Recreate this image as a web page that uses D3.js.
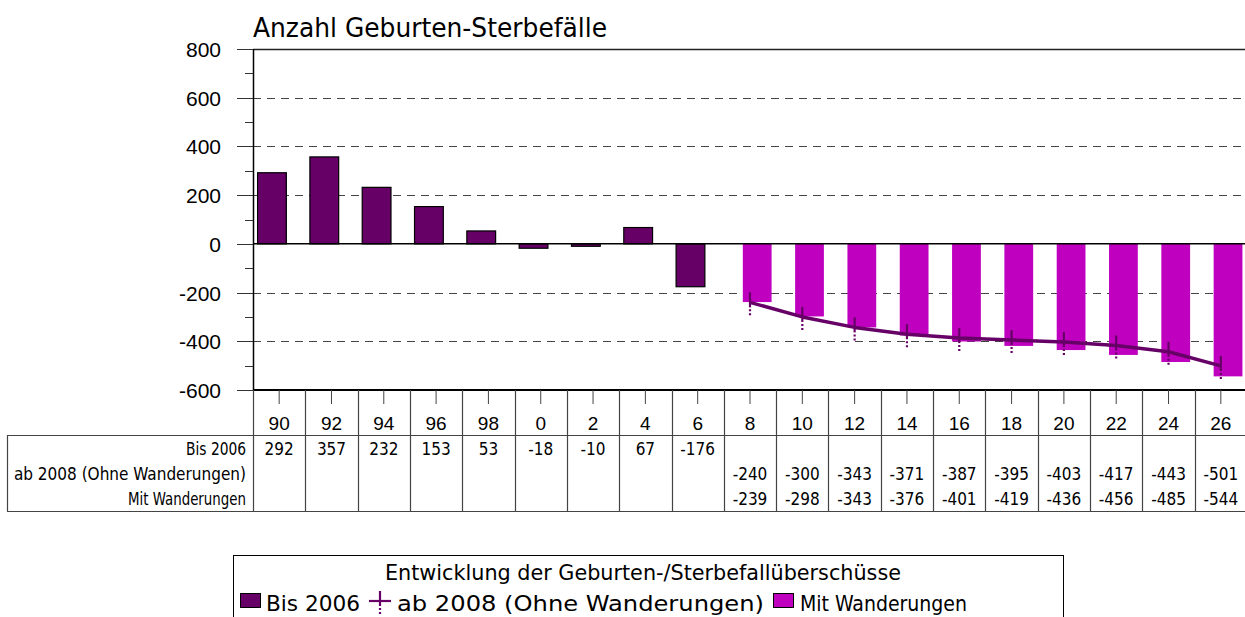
<!DOCTYPE html>
<html><head><meta charset="utf-8">
<script src="https://cdn.jsdelivr.net/npm/d3@7/dist/d3.min.js"></script>
<style>
html,body{margin:0;padding:0;background:#fff;}
svg{display:block;}
</style></head>
<body>
<svg id="chart" width="1245" height="617"></svg>
<script>
// ---- data ----
const categories = ["90","92","94","96","98","0","2","4","6","8","10","12","14","16","18","20","22","24","26"];
const bis2006 = [292,357,232,153,53,-18,-10,67,-176,null,null,null,null,null,null,null,null,null,null];
const ohneWanderungen = [null,null,null,null,null,null,null,null,null,-240,-300,-343,-371,-387,-395,-403,-417,-443,-501];
const mitWanderungen = [null,null,null,null,null,null,null,null,null,-239,-298,-343,-376,-401,-419,-436,-456,-485,-544];
const yTicks = [800,600,400,200,0,-200,-400,-600];
const yMinorTicks = [700,500,300,100,-100,-300,-500];
const rowLabels = ["Bis 2006","ab 2008 (Ohne Wanderungen)","Mit Wanderungen"];
const title = "Anzahl Geburten-Sterbefälle";
const legendTitle = "Entwicklung der Geburten-/Sterbefallüberschüsse";

(function(){
const C_DARK = "#660066", C_PINK = "#BF00BF";
const TAHOMA = "'DejaVu Sans Condensed','DejaVu Sans',sans-serif";
const ARIAL = "'Liberation Sans',Arial,sans-serif";

const svg = d3.select("#chart");
const pLeft = 253, pRight = 1247, pTop = 49, pBottom = 390;
const x = d3.scaleBand().domain(categories).range([pLeft, pRight]).padding(0);
const y = d3.scaleLinear().domain([-600, 800]).range([pBottom, pTop]);
const bw = x.bandwidth();
const barW = bw * 0.55;
const off = (bw - barW * 1.5) / 2;

function fit(sel, w) {
  sel.each(function(){
    const l = this.getComputedTextLength();
    if (Math.abs(l - w) / w > 0.02) {
      d3.select(this).attr("textLength", w).attr("lengthAdjust", "spacingAndGlyphs");
    }
  });
}

// title
svg.append("text").attr("x", 253).attr("y", 37).attr("font-family", TAHOMA).attr("font-size", 26)
  .attr("fill", "#000").text(title).call(fit, 354);

// gridlines
const g = svg.append("g");
g.selectAll("line.grid").data(yTicks.filter(d => d !== 0 && d !== 800 && d !== -600)).join("line")
  .attr("x1", pLeft).attr("x2", pRight).attr("y1", d => Math.round(y(d)) + 0.5).attr("y2", d => Math.round(y(d)) + 0.5)
  .attr("stroke", "#444").attr("stroke-width", 1).attr("stroke-dasharray", "8,6");

// top frame
g.append("line").attr("x1", pLeft).attr("x2", pRight).attr("y1", pTop + 0.5).attr("y2", pTop + 0.5)
  .attr("stroke", "#222").attr("stroke-width", 1.5);

// pink bars (Mit Wanderungen)
const mitData = categories.map((c, i) => ({c, v: mitWanderungen[i]})).filter(d => d.v !== null);
g.selectAll("rect.mit").data(mitData).join("rect")
  .attr("x", d => x(d.c) + off + barW * 0.5).attr("width", barW)
  .attr("y", d => y(Math.max(0, d.v))).attr("height", d => Math.abs(y(d.v) - y(0)))
  .attr("fill", C_PINK);

// dark bars (Bis 2006)
const bisData = categories.map((c, i) => ({c, v: bis2006[i]})).filter(d => d.v !== null);
g.selectAll("rect.bis").data(bisData).join("rect")
  .attr("x", d => x(d.c) + off).attr("width", barW)
  .attr("y", d => y(Math.max(0, d.v))).attr("height", d => Math.abs(y(d.v) - y(0)))
  .attr("fill", C_DARK).attr("stroke", "#000").attr("stroke-width", 1.2);

// zero line
g.append("line").attr("x1", pLeft).attr("x2", pRight).attr("y1", y(0)).attr("y2", y(0))
  .attr("stroke", "#000").attr("stroke-width", 1.5);

// line (ab 2008)
const ohneData = categories.map((c, i) => ({c, v: ohneWanderungen[i]})).filter(d => d.v !== null);
const lineGen = d3.line().x(d => x(d.c) + bw / 2).y(d => y(d.v));
g.append("path").datum(ohneData).attr("d", lineGen).attr("fill", "none")
  .attr("stroke", C_DARK).attr("stroke-width", 3.5).attr("stroke-linejoin", "round");

function marker(sel, cx, cy) {
  sel.append("line").attr("x1", cx).attr("x2", cx).attr("y1", cy - 10).attr("y2", cy + 5)
    .attr("stroke", C_DARK).attr("stroke-width", 2.2);
  sel.append("line").attr("x1", cx).attr("x2", cx).attr("y1", cy + 7).attr("y2", cy + 13)
    .attr("stroke", C_DARK).attr("stroke-width", 2.2).attr("stroke-dasharray", "2,2");
}
ohneData.forEach(d => marker(g, x(d.c) + bw / 2, y(d.v)));

// y axis
const ax = svg.append("g");
ax.append("line").attr("x1", pLeft + 0.5).attr("x2", pLeft + 0.5).attr("y1", pTop).attr("y2", pBottom)
  .attr("stroke", "#000").attr("stroke-width", 1.5);
ax.selectAll("line.maj").data(yTicks).join("line")
  .attr("x1", 237).attr("x2", pLeft).attr("y1", d => Math.round(y(d)) + 0.5).attr("y2", d => Math.round(y(d)) + 0.5)
  .attr("stroke", "#333").attr("stroke-width", 1);
ax.selectAll("line.min").data(yMinorTicks).join("line")
  .attr("x1", 245).attr("x2", pLeft).attr("y1", d => Math.round(y(d)) + 0.5).attr("y2", d => Math.round(y(d)) + 0.5)
  .attr("stroke", "#333").attr("stroke-width", 1);
ax.selectAll("text").data(yTicks).join("text")
  .attr("x", 221).attr("y", d => y(d) + 8).attr("text-anchor", "end")
  .attr("font-family", ARIAL).attr("font-size", 21).attr("fill", "#000").text(d => d);

// bottom axis line
ax.append("line").attr("x1", pLeft).attr("x2", pRight).attr("y1", pBottom).attr("y2", pBottom)
  .attr("stroke", "#000").attr("stroke-width", 2);

// table
const tb = svg.append("g");
const tTop = 435, tBot = 511, tLeft = 7;
tb.selectAll("line.ct").data(categories).join("line")
  .attr("x1", d => x(d) + bw / 2).attr("x2", d => x(d) + bw / 2).attr("y1", pBottom).attr("y2", 404)
  .attr("stroke", "#444").attr("stroke-width", 1);
tb.selectAll("line.sep").data(categories).join("line")
  .attr("x1", d => Math.round(x(d)) + 0.5).attr("x2", d => Math.round(x(d)) + 0.5).attr("y1", pBottom).attr("y2", tBot)
  .attr("stroke", "#444").attr("stroke-width", 1.2);
tb.append("line").attr("x1", tLeft).attr("x2", pRight).attr("y1", tTop + 0.5).attr("y2", tTop + 0.5)
  .attr("stroke", "#444").attr("stroke-width", 1.2);
tb.append("line").attr("x1", tLeft).attr("x2", pRight).attr("y1", tBot + 0.5).attr("y2", tBot + 0.5)
  .attr("stroke", "#444").attr("stroke-width", 1.2);
tb.append("line").attr("x1", tLeft + 0.5).attr("x2", tLeft + 0.5).attr("y1", tTop).attr("y2", tBot)
  .attr("stroke", "#444").attr("stroke-width", 1.2);
tb.selectAll("text.cat").data(categories).join("text")
  .attr("x", d => x(d) + bw / 2).attr("y", 430).attr("text-anchor", "middle")
  .attr("font-family", ARIAL).attr("font-size", 19).attr("fill", "#000").text(d => d);
const rowY = [455, 480, 505];
const rowW = [60, 228, 118];
rowLabels.forEach((r, i) => {
  tb.append("text").attr("x", 246).attr("y", rowY[i]).attr("text-anchor", "end")
    .attr("font-family", TAHOMA).attr("font-size", 17).attr("fill", "#000").text(r).call(fit, rowW[i]);
});
[bis2006, ohneWanderungen, mitWanderungen].forEach((arr, i) => {
  tb.selectAll("text.v" + i).data(categories.map((c, j) => ({c, v: arr[j]})).filter(d => d.v !== null)).join("text")
    .attr("x", d => x(d.c) + bw / 2).attr("y", rowY[i]).attr("text-anchor", "middle")
    .attr("font-family", TAHOMA).attr("font-size", 17).attr("fill", "#000").text(d => d.v);
});

// legend
const lg = svg.append("g");
lg.append("rect").attr("x", 233.5).attr("y", 555.5).attr("width", 830).attr("height", 80)
  .attr("fill", "none").attr("stroke", "#000").attr("stroke-width", 1);
lg.append("text").attr("x", 643).attr("y", 580).attr("text-anchor", "middle")
  .attr("font-family", TAHOMA).attr("font-size", 22).attr("fill", "#000").text(legendTitle).call(fit, 516);
lg.append("rect").attr("x", 240.5).attr("y", 593.5).attr("width", 20).attr("height", 14)
  .attr("fill", C_DARK).attr("stroke", "#000").attr("stroke-width", 1);
lg.append("text").attr("x", 266).attr("y", 611).attr("font-family", TAHOMA).attr("font-size", 22)
  .attr("fill", "#000").text("Bis 2006").call(fit, 94);
lg.append("line").attr("x1", 369).attr("x2", 391).attr("y1", 601).attr("y2", 601)
  .attr("stroke", C_DARK).attr("stroke-width", 2.2);
marker(lg, 380, 601);
lg.append("text").attr("x", 397).attr("y", 611).attr("font-family", TAHOMA).attr("font-size", 22)
  .attr("fill", "#000").text("ab 2008 (Ohne Wanderungen)").call(fit, 367);
lg.append("rect").attr("x", 773.5).attr("y", 593.5).attr("width", 20).attr("height", 14)
  .attr("fill", C_PINK).attr("stroke", "#000").attr("stroke-width", 1);
lg.append("text").attr("x", 800).attr("y", 611).attr("font-family", TAHOMA).attr("font-size", 22)
  .attr("fill", "#000").text("Mit Wanderungen").call(fit, 167);
})();
</script>
</body></html>
